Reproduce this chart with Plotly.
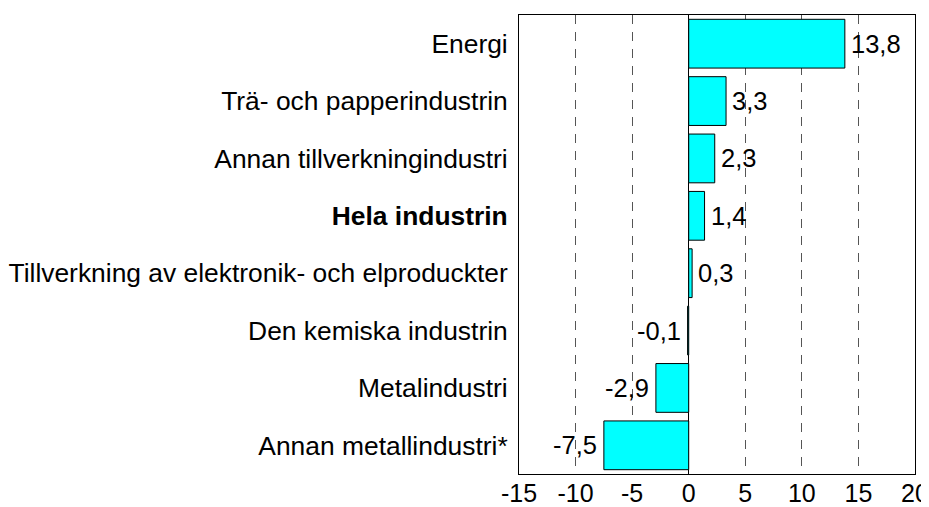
import plotly.graph_objects as go

categories = [
    "Energi",
    "Trä- och papperindustrin",
    "Annan tillverkningindustri",
    "Hela industrin",
    "Tillverkning av elektronik- och elproduckter",
    "Den kemiska industrin",
    "Metalindustri",
    "Annan metallindustri*",
]
values = [13.8, 3.3, 2.3, 1.4, 0.3, -0.1, -2.9, -7.5]
bold_categories = ["Hela industrin"]
x_ticks = [-15, -10, -5, 0, 5, 10, 15, 20]

FONT = "Liberation Sans, Arial, sans-serif"
FS = 26.4

fig = go.Figure()
fig.add_trace(go.Bar(
    x=values,
    y=categories,
    orientation="h",
    width=0.85,
    marker=dict(color="#00FFFF", line=dict(color="black", width=1)),
    hoverinfo="skip",
))

for cat, v in zip(categories, values):
    fig.add_annotation(
        x=v, y=cat, xref="x", yref="y",
        text=f"{v:.1f}".replace(".", ","),
        showarrow=False,
        xanchor="left" if v >= 0 else "right",
        xshift=4 if v >= 0 else -5,
        font=dict(family=FONT, size=25.5, color="black"),
    )

ticktext = [f"<b>{c}</b>" if c in bold_categories else c for c in categories]

fig.update_layout(
    width=921, height=499,
    margin=dict(l=510.5, r=14, t=7, b=33),
    plot_bgcolor="white", paper_bgcolor="white",
    showlegend=False,
    font=dict(family=FONT, size=FS, color="black"),
    bargap=0.15,
)
fig.update_xaxes(
    range=[-15, 20],
    tickvals=x_ticks,
    ticktext=[str(t) for t in x_ticks],
    showgrid=True, gridcolor="#555555", griddash="9px,8px", gridwidth=1,
    zeroline=True, zerolinecolor="black", zerolinewidth=1,
    showline=True, linecolor="black", linewidth=1, mirror=True,
    ticks="", ticklabelstandoff=-3, automargin=False,
    ticklabeloverflow="allow",
    tickfont=dict(family=FONT, size=25, color="black"),
)
fig.update_yaxes(
    categoryorder="array", categoryarray=categories,
    tickvals=categories, ticktext=ticktext,
    range=[7.5, -0.5],
    showgrid=False, zeroline=False,
    showline=True, linecolor="black", linewidth=1, mirror=True,
    ticks="", ticklabelstandoff=5, automargin=False,
    tickfont=dict(family=FONT, size=FS, color="black"),
)

fig.write_html("out.html")
